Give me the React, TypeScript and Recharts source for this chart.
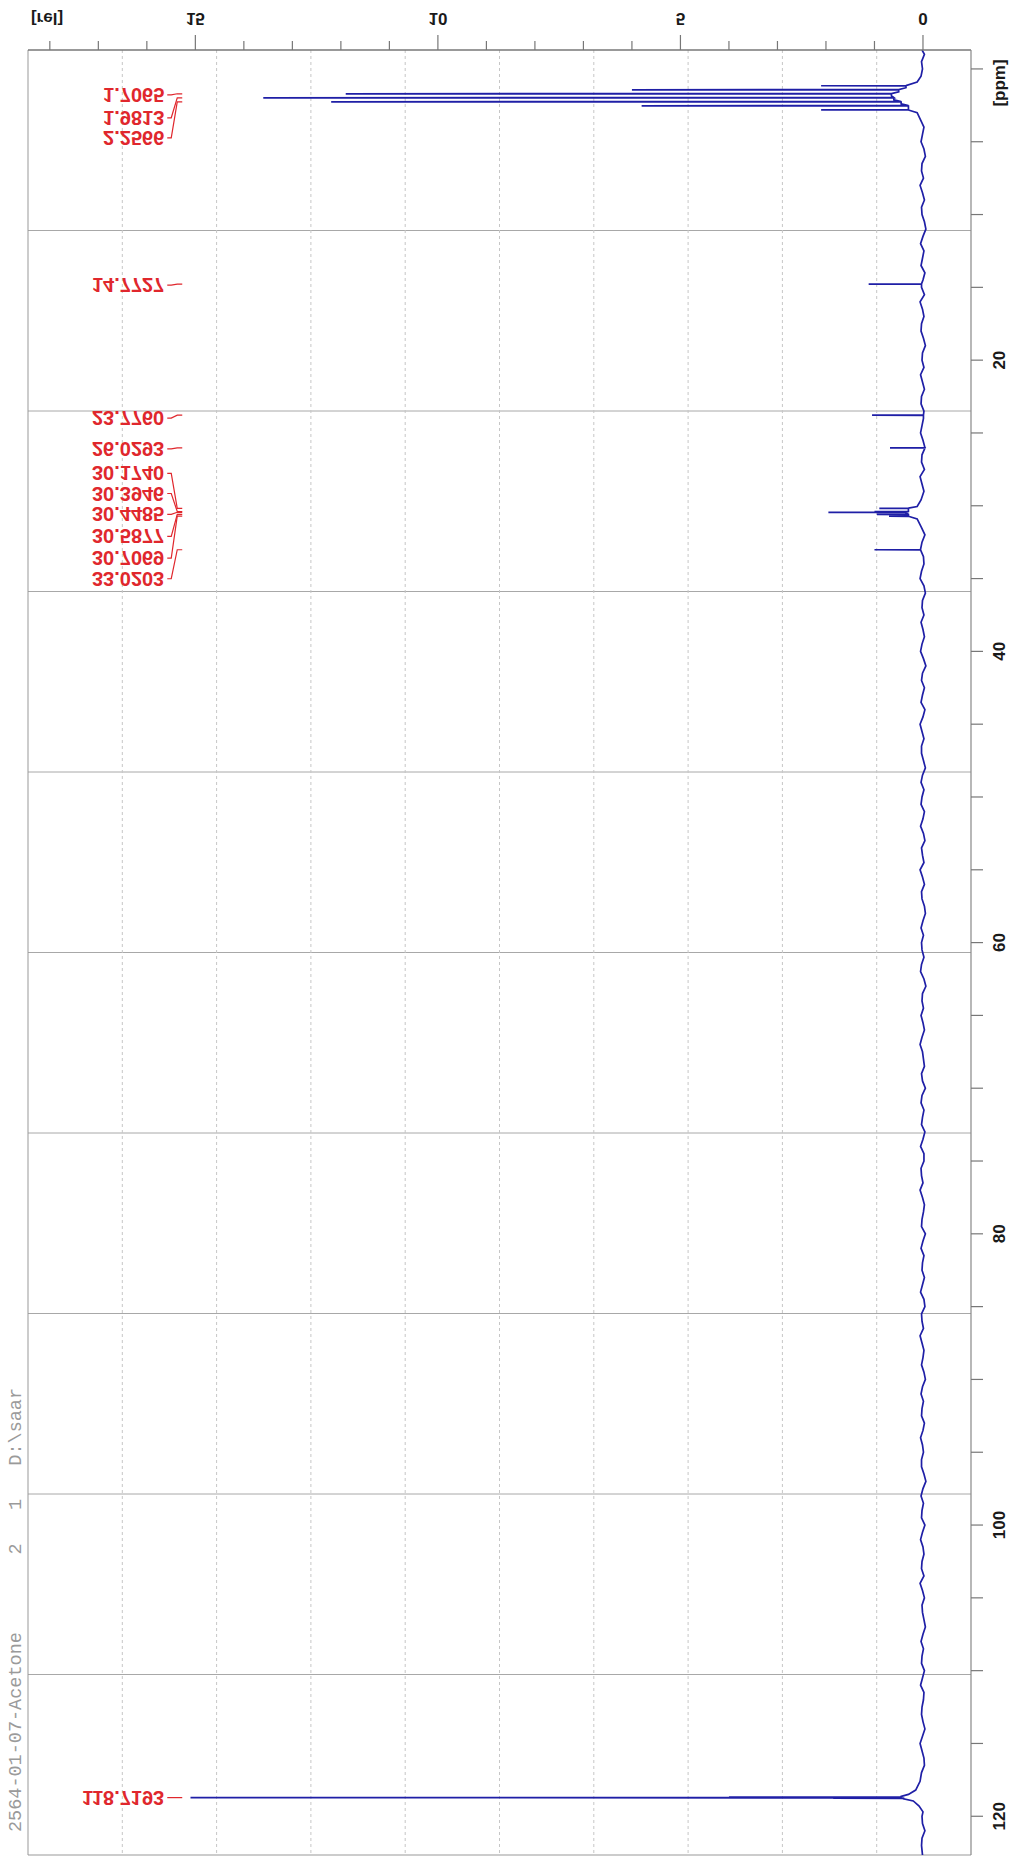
import React from 'react';
import { LineChart, Line, XAxis, YAxis, CartesianGrid, ReferenceLine, ReferenceDot } from 'recharts';

const W = 1012;
const H = 1859;

// axis ranges ([rel] grows to the left, ppm grows downwards)
const REL_DOMAIN: [number, number] = [-0.99, 18.45];
const PPM_DOMAIN: [number, number] = [-1.3, 122.66];
const relTicks = [0, 1, 2, 3, 4, 5, 6, 7, 8, 9, 10, 11, 12, 13, 14, 15, 16, 17, 18];
const ppmTicks = [0, 5, 10, 15, 20, 25, 30, 35, 40, 45, 50, 55, 60, 65, 70, 75, 80, 85, 90, 95, 100, 105, 110, 115, 120];
const gridSteps = [1, 2, 3, 4, 5, 6, 7, 8, 9];

// peaks: position (ppm) and height (rel)
const peakPpm = [1.1564, 1.4316, 1.7065, 1.9813, 2.2566, 2.5317, 2.8069, 14.7727, 23.776, 26.0293, 30.174, 30.3946, 30.4485, 30.5877, 30.7069, 33.0203, 118.69, 118.7193, 118.76];
const peakHeight = [2.1, 6.0, 11.9, 13.6, 12.2, 5.8, 2.1, 1.12, 1.05, 0.68, 0.9, 1.0, 1.95, 0.95, 0.7, 1.0, 4.0, 15.1, 1.85];

// baseline with noise [ppm, rel]
const baseline: [number, number][] = [
  [-1.3, 0.02], [-1, -0.03], [-0.5, 0.03], [0, 0.01], [0.5, 0.04], [0.9, 0.12], [1.29, 0.35], [1.57, 0.5],
  [1.84, 0.65], [2.12, 0.6], [2.39, 0.45], [2.67, 0.3], [3.0, 0.12], [3.5, 0.05], [4, -0.02], [4.5, 0.01],
  [5, 0.04], [5.5, -0.02], [6, -0.05], [6.5, 0.02], [7, 0.03], [7.5, -0.01], [8, 0.06], [8.5, 0.01],
  [9, -0.03], [9.5, 0.03], [10, 0.02], [10.5, -0.03], [11, -0.06], [11.5, 0.0], [12, 0.05], [12.5, -0.02],
  [13, 0.01], [13.5, 0.04], [14, -0.04], [14.5, 0.0], [15, 0.03], [15.5, -0.03], [16, 0.06], [16.5, 0.01],
  [17, -0.02], [17.5, 0.03], [18, 0.04], [18.5, -0.01], [19, -0.05], [19.5, 0.01], [20, 0.02], [20.5, -0.02],
  [21, 0.05], [21.5, 0.01], [22, -0.03], [22.5, 0.03], [23, 0.04], [23.5, -0.02], [24, -0.01], [24.5, 0.02],
  [25, 0.05], [25.5, 0.0], [26, -0.04], [26.5, 0.02], [27, 0.03], [27.5, -0.03], [28, 0.06], [28.5, 0.02],
  [29, -0.02], [29.6, 0.04], [30.05, 0.12], [30.28, 0.3], [30.52, 0.35], [30.65, 0.3], [30.9, 0.12], [31.5, 0.03],
  [32, -0.04], [32.5, 0.02], [33, 0.05], [33.5, -0.01], [34, -0.02], [34.5, 0.03], [35, 0.06], [35.5, -0.02],
  [36, -0.05], [36.5, 0.01], [37, 0.02], [37.5, -0.02], [38, 0.04], [38.5, 0.0], [39, -0.03], [39.5, 0.02],
  [40, 0.05], [40.5, -0.01], [41, -0.06], [41.5, 0.01], [42, 0.03], [42.5, -0.03], [43, 0.01], [43.5, 0.04],
  [44, -0.04], [44.5, 0.0], [45, 0.06], [45.5, 0.02], [46, -0.02], [46.5, 0.03], [47, 0.03], [47.5, -0.01],
  [48, -0.05], [48.5, 0.01], [49, 0.04], [49.5, -0.02], [50, 0.02], [50.5, 0.04], [51, -0.03], [51.5, 0.0],
  [52, 0.05], [52.5, -0.01], [53, -0.04], [53.5, 0.03], [54, 0.01], [54.5, -0.02], [55, 0.06], [55.5, 0.01],
  [56, -0.03], [56.5, 0.03], [57, 0.02], [57.5, -0.03], [58, -0.05], [58.5, 0.0], [59, 0.04], [59.5, -0.01],
  [60, 0.03], [60.5, 0.02], [61, -0.02], [61.5, 0.03], [62, 0.05], [62.5, -0.02], [63, -0.06], [63.5, 0.01],
  [64, 0.02], [64.5, -0.01], [65, 0.04], [65.5, 0.0], [66, -0.03], [66.5, 0.02], [67, 0.06], [67.5, 0.01],
  [68, -0.01], [68.5, -0.03], [69, 0.03], [69.5, 0.01], [70, -0.05], [70.5, 0.02], [71, 0.04], [71.5, -0.02],
  [72, 0.01], [72.5, 0.03], [73, -0.04], [73.5, 0.0], [74, 0.05], [74.5, -0.02], [75, -0.02], [75.5, 0.04],
  [76, 0.03], [76.5, 0.0], [77, 0.06], [77.5, 0.01], [78, -0.03], [78.5, -0.01], [79, 0.02], [79.5, 0.03],
  [80, -0.05], [80.5, 0.0], [81, 0.04], [81.5, -0.02], [82, 0.01], [82.5, 0.02], [83, -0.03], [83.5, 0.01],
  [84, 0.05], [84.5, -0.02], [85, -0.04], [85.5, 0.03], [86, 0.02], [86.5, -0.01], [87, 0.06], [87.5, 0.02],
  [88, -0.02], [88.5, 0.0], [89, 0.03], [89.5, -0.02], [90, -0.05], [90.5, 0.01], [91, 0.04], [91.5, -0.01],
  [92, 0.02], [92.5, 0.03], [93, -0.03], [93.5, 0.0], [94, 0.05], [94.5, 0.01], [95, -0.01], [95.5, 0.03],
  [96, 0.03], [96.5, -0.02], [97, -0.06], [97.5, 0.0], [98, 0.04], [98.5, -0.01], [99, 0.02], [99.5, 0.03],
  [100, -0.04], [100.5, 0.01], [101, 0.05], [101.5, 0.0], [102, -0.02], [102.5, 0.02], [103, 0.03], [103.5, -0.02],
  [104, 0.06], [104.5, 0.01], [105, -0.03], [105.5, 0.02], [106, 0.01], [106.5, -0.02], [107, -0.05], [107.5, 0.0],
  [108, 0.04], [108.5, -0.01], [109, 0.02], [109.5, 0.03], [110, -0.03], [110.5, 0.01], [111, 0.05], [111.5, -0.02],
  [112, -0.01], [112.5, 0.02], [113, 0.03], [113.5, 0.0], [114, -0.04], [114.5, 0.01], [115, 0.06], [115.5, 0.02],
  [116, -0.02], [116.5, -0.03], [117, 0.03], [117.6, 0.06], [118.2, 0.15], [118.5, 0.3], [118.64, 0.45], [118.8, 0.4],
  [118.95, 0.2], [119.3, 0.08], [119.7, 0.0], [120, 0.02], [120.5, 0.01], [121, -0.04], [121.5, 0.02], [122, 0.03],
  [122.66, 0.01],
];

// peak picking labels
const labelText = ['1.7065', '1.9813', '2.2566', '14.7727', '23.7760', '26.0293', '30.1740', '30.3946', '30.4485', '30.5877', '30.7069', '33.0203', '118.7193'];
const labelPpm = [1.7065, 1.9813, 2.2566, 14.7727, 23.776, 26.0293, 30.174, 30.3946, 30.4485, 30.5877, 30.7069, 33.0203, 118.7193];
// px nudge so that stacked labels don't overlap
const labelShift = [1, 20, 36, 1, 3, 1, -35, -18, 2, 22, 42, 29, 0];
const LABEL_COLUMN = 15.6;

const footAt = (p: number) => {
  let best = baseline[0];
  for (const b of baseline) if (Math.abs(b[0] - p) < Math.abs(best[0] - p)) best = b;
  return best[1];
};

const spectrum = [
  ...baseline.map(([ppm, rel]) => ({ ppm, rel })),
  ...peakPpm.flatMap((p, i) => [
    { ppm: p - 0.015, rel: footAt(p) },
    { ppm: p, rel: peakHeight[i] },
    { ppm: p + 0.015, rel: footAt(p) },
  ]),
].sort((a, b) => a.ppm - b.ppm);

const AXIS_FONT = "'Liberation Sans', Arial, sans-serif";
const LABEL_FONT = "'Liberation Sans Narrow', 'Liberation Sans', Arial, sans-serif";
const RED = '#e0272d';

const RelTick = (props: any) => {
  const { x, y, payload } = props;
  const v = payload.value;
  const major = v % 5 === 0;
  return (
    <g>
      <line x1={x} x2={x} y1={y} y2={y - (major ? 15 : 9)} stroke="#777" strokeWidth={1.2} />
      {major && (
        <text transform={`translate(${x},${y - 32}) scale(1,-1)`} textAnchor="middle" dominantBaseline="central"
          fontFamily={AXIS_FONT} fontWeight="bold" fontSize={17} fill="#1a1a1a">{v}</text>
      )}
    </g>
  );
};

const PpmTick = (props: any) => {
  const { x, y, payload } = props;
  const v = payload.value;
  return (
    <g>
      <line x1={x} x2={x + 12} y1={y} y2={y} stroke="#777" strokeWidth={1.2} />
      {v > 0 && v % 20 === 0 && (
        <text transform={`translate(${x + 28},${y}) rotate(-90)`} textAnchor="middle" dominantBaseline="central"
          fontFamily={AXIS_FONT} fontWeight="bold" fontSize={17} fill="#1a1a1a">{v}</text>
      )}
    </g>
  );
};

const PeakLabel = ({ cx, cy, text, shift }: { cx: number; cy: number; text: string; shift: number }) => {
  const ty = cy + shift;
  return (
    <g>
      <path d={`M${cx + 1},${ty} H${cx + 5} L${cx + 11},${cy} H${cx + 16}`} fill="none" stroke={RED} strokeWidth={1.2} />
      <text transform={`translate(${cx - 2},${ty}) scale(1,-1)`} textAnchor="end" dominantBaseline="central"
        fontFamily={LABEL_FONT} fontWeight="bold" fontSize={20} fill={RED}>{text}</text>
    </g>
  );
};

export default function App() {
  return (
    <div style={{ position: 'absolute', left: 0, top: 0, width: W, height: H, background: '#fff' }}>
      <LineChart width={W} height={H} layout="vertical" data={spectrum} margin={{ top: 0, right: 0, bottom: 4, left: 28 }}>
        <CartesianGrid vertical={false} stroke="#a8a8a8"
          horizontalCoordinatesGenerator={({ offset }: any) => gridSteps.map((k) => offset.top + (k * offset.height) / 10)} />
        <CartesianGrid horizontal={false} stroke="#c6c6c6" strokeDasharray="3 3"
          verticalCoordinatesGenerator={({ offset }: any) => gridSteps.map((k) => offset.left + (k * offset.width) / 10)} />
        <XAxis type="number" orientation="top" domain={REL_DOMAIN} reversed allowDataOverflow ticks={relTicks} interval={0}
          height={50} tickSize={0} tickMargin={0} tickLine={false} tick={<RelTick />} axisLine={{ stroke: '#777', strokeWidth: 1.5 }} />
        <YAxis type="number" dataKey="ppm" orientation="right" domain={PPM_DOMAIN} allowDataOverflow ticks={ppmTicks} interval={0}
          width={41} tickSize={0} tickMargin={0} tickLine={false} tick={<PpmTick />} axisLine={{ stroke: '#888', strokeWidth: 1.2 }} />
        <ReferenceLine x={REL_DOMAIN[1]} stroke="#999" ifOverflow="visible" />
        <ReferenceLine y={PPM_DOMAIN[1]} stroke="#999" ifOverflow="visible" />
        <Line type="linear" dataKey="rel" stroke="#1f1fa6" strokeWidth={1.7} dot={false} isAnimationActive={false} />
        {labelPpm.map((p, i) => (
          <ReferenceDot key={labelText[i]} x={LABEL_COLUMN} y={p} ifOverflow="visible"
            shape={(s: any) => <PeakLabel cx={s.cx} cy={s.cy} text={labelText[i]} shift={labelShift[i]} />} />
        ))}
      </LineChart>
      <svg width={W} height={H} style={{ position: 'absolute', left: 0, top: 0, pointerEvents: 'none' }}>
        <text transform="translate(47,18) scale(1,-1)" textAnchor="middle" dominantBaseline="central"
          fontFamily={AXIS_FONT} fontWeight="bold" fontSize={17} fill="#1a1a1a">[rel]</text>
        <text transform="translate(999,83) rotate(-90)" textAnchor="middle" dominantBaseline="central"
          fontFamily={AXIS_FONT} fontWeight="bold" fontSize={17} fill="#1a1a1a">[ppm]</text>
        <text transform="translate(16,1832) rotate(-90)" textAnchor="start" dominantBaseline="central" style={{ whiteSpace: 'pre' }}
          fontFamily="'Liberation Mono', monospace" fontSize={18.5} fill="#9a9a9a">{'2564-01-07-Acetone       2   1   D:\\saar'}</text>
      </svg>
    </div>
  );
}
